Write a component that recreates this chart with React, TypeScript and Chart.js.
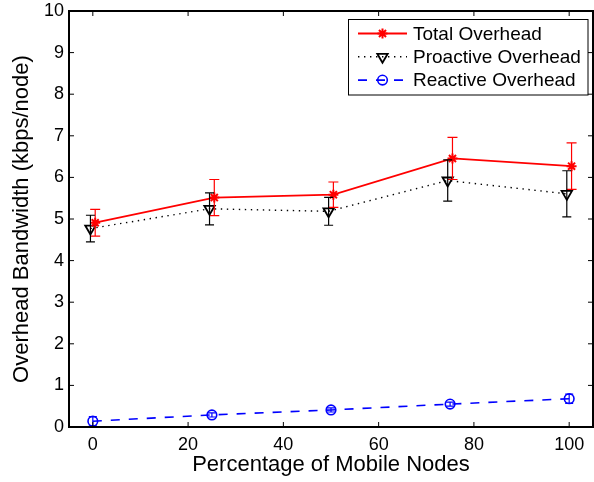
import { useEffect, useRef } from "react";
import { Chart, registerables } from "chart.js";
import { drawPoint } from "chart.js/helpers";

Chart.register(...registerables);

// Percentage of mobile nodes in the network
const mobilePct = [0, 25, 50, 75, 100];

// Mean overhead (kbps/node) and error half-widths for each series
const totalOverhead = [4.91, 5.515, 5.585, 6.455, 6.27];
const totalErr = [0.32, 0.435, 0.305, 0.505, 0.56];
const proactiveOverhead = [4.77, 5.245, 5.185, 5.925, 5.605];
const proactiveErr = [0.32, 0.385, 0.335, 0.495, 0.555];
const reactiveOverhead = [0.14, 0.29, 0.41, 0.55, 0.68];
const reactiveErr = [0.11, 0.05, 0.05, 0.05, 0.11];

const xTicks = [0, 20, 40, 60, 80, 100];
const yTicks = [0, 1, 2, 3, 4, 5, 6, 7, 8, 9, 10];

const seriesLabels = ["Total Overhead", "Proactive Overhead", "Reactive Overhead"];

// small horizontal dodge so overlapping error bars stay readable
const dodge = [0.5, -0.5, 0];

const FONT = "'Liberation Sans', Arial, Helvetica, sans-serif";

const toPoints = (ys: number[], dx: number) =>
  mobilePct.map((p, i) => ({ x: p + dx, y: ys[i] }));

const errorBarPlugin = {
  id: "errorBars",
  afterDatasetsDraw(chart: any) {
    const { ctx } = chart;
    const yScale = chart.scales.y;
    chart.data.datasets.forEach((ds: any, di: number) => {
      const meta = chart.getDatasetMeta(di);
      const errs: number[] = ds.errors || [];
      ctx.save();
      ctx.strokeStyle = ds.borderColor;
      ctx.lineWidth = 1.2;
      ctx.setLineDash([]);
      meta.data.forEach((pt: any, i: number) => {
        const v = ds.data[i].y;
        const e = errs[i] || 0;
        const yTop = yScale.getPixelForValue(v + e);
        const yBot = yScale.getPixelForValue(v - e);
        const cap = ds.capHalf || 4.5;
        ctx.beginPath();
        ctx.moveTo(pt.x, yTop);
        ctx.lineTo(pt.x, yBot);
        ctx.moveTo(pt.x - cap, yTop);
        ctx.lineTo(pt.x + cap, yTop);
        ctx.moveTo(pt.x - cap, yBot);
        ctx.lineTo(pt.x + cap, yBot);
        ctx.stroke();
      });
      ctx.restore();
    });
  },
};

const framePlugin = {
  id: "frame",
  afterDraw(chart: any) {
    const { ctx, chartArea: a } = chart;
    const xs = chart.scales.x;
    const ys = chart.scales.y;
    ctx.save();
    ctx.setLineDash([]);
    ctx.strokeStyle = "#000";
    // inward ticks on all four sides
    ctx.lineWidth = 1;
    const tl = 5;
    ctx.beginPath();
    xTicks.forEach((v) => {
      const px = xs.getPixelForValue(v);
      ctx.moveTo(px, a.bottom);
      ctx.lineTo(px, a.bottom - tl);
      ctx.moveTo(px, a.top);
      ctx.lineTo(px, a.top + tl);
    });
    yTicks.forEach((v) => {
      const py = ys.getPixelForValue(v);
      ctx.moveTo(a.left, py);
      ctx.lineTo(a.left + tl, py);
      ctx.moveTo(a.right, py);
      ctx.lineTo(a.right - tl, py);
    });
    ctx.stroke();
    // axes box
    ctx.lineWidth = 2;
    ctx.strokeRect(a.left, a.top, a.right - a.left, a.bottom - a.top);

    // legend
    const bx = 348.5, by = 19.5, bw = 239.5, bh = 75.5;
    ctx.fillStyle = "#fff";
    ctx.fillRect(bx, by, bw, bh);
    ctx.lineWidth = 1;
    ctx.strokeStyle = "#000";
    ctx.strokeRect(bx, by, bw, bh);
    ctx.font = `19px ${FONT}`;
    ctx.textBaseline = "middle";
    ctx.textAlign = "left";
    chart.data.datasets.forEach((ds: any, i: number) => {
      const ry = 33.5 + i * 23.3;
      ctx.save();
      ctx.strokeStyle = ds.borderColor;
      ctx.lineWidth = ds.borderWidth;
      ctx.setLineDash(ds.borderDash || []);
      ctx.beginPath();
      ctx.moveTo(358, ry);
      ctx.lineTo(407, ry);
      ctx.stroke();
      ctx.setLineDash([]);
      ctx.strokeStyle = ds.pointBorderColor;
      ctx.fillStyle = ds.pointBackgroundColor;
      ctx.lineWidth = ds.pointBorderWidth;
      drawPoint(
        ctx,
        {
          pointStyle: ds.pointStyle,
          radius: ds.pointRadius,
          rotation: ds.pointRotation || 0,
          borderWidth: ds.pointBorderWidth,
        },
        382.5,
        ry
      );
      ctx.restore();
      ctx.fillStyle = "#000";
      ctx.fillText(ds.label, 413, ry + 1);
    });
    ctx.restore();
  },
};

export default function App() {
  const canvasRef = useRef<HTMLCanvasElement | null>(null);

  useEffect(() => {
    const canvas = canvasRef.current;
    if (!canvas) return;
    const chart = new Chart(canvas, {
      type: "line",
      data: {
        datasets: [
          {
            label: seriesLabels[0],
            data: toPoints(totalOverhead, dodge[0]),
            errors: totalErr,
            capHalf: 5,
            borderColor: "#ff0000",
            borderWidth: 1.8,
            pointStyle: "star",
            pointRadius: 5,
            pointBorderColor: "#ff0000",
            pointBackgroundColor: "rgba(0,0,0,0)",
            pointBorderWidth: 2,
          },
          {
            label: seriesLabels[1],
            data: toPoints(proactiveOverhead, dodge[1]),
            errors: proactiveErr,
            capHalf: 4.5,
            borderColor: "#000000",
            borderWidth: 1.4,
            borderDash: [1.4, 4.6],
            pointStyle: "triangle",
            pointRotation: 180,
            pointRadius: 6,
            pointBorderColor: "#000000",
            pointBackgroundColor: "rgba(0,0,0,0)",
            pointBorderWidth: 1.8,
          },
          {
            label: seriesLabels[2],
            data: toPoints(reactiveOverhead, dodge[2]),
            errors: reactiveErr,
            capHalf: 4,
            borderColor: "#0000ff",
            borderWidth: 1.6,
            borderDash: [9, 9],
            pointStyle: "circle",
            pointRadius: 4.8,
            pointBorderColor: "#0000ff",
            pointBackgroundColor: "rgba(0,0,0,0)",
            pointBorderWidth: 1.6,
          },
        ] as any,
      },
      options: {
        animation: false,
        responsive: false,
        devicePixelRatio: 1,
        layout: { autoPadding: false, padding: { left: 0, top: 11, right: 1, bottom: 0 } },
        plugins: {
          legend: { display: false },
          tooltip: { enabled: false },
        },
        scales: {
          x: {
            type: "linear",
            min: -5,
            max: 105,
            grid: { display: false, drawTicks: false },
            border: { display: false },
            afterBuildTicks: (s: any) => {
              s.ticks = xTicks.map((v) => ({ value: v }));
            },
            afterFit: (s: any) => {
              s.height = 55;
              s.paddingLeft = 0;
              s.paddingRight = 0;
            },
            ticks: {
              padding: 7,
              color: "#000",
              font: { family: FONT, size: 18 },
              maxRotation: 0,
              callback: (v: any) => String(v),
            },
            title: {
              display: true,
              text: "Percentage of Mobile Nodes",
              color: "#000",
              font: { family: FONT, size: 22 },
              padding: { top: 0, bottom: 4 },
            },
          },
          y: {
            type: "linear",
            min: 0,
            max: 10,
            grid: { display: false, drawTicks: false },
            border: { display: false },
            afterBuildTicks: (s: any) => {
              s.ticks = yTicks.map((v) => ({ value: v }));
            },
            afterFit: (s: any) => {
              s.width = 69;
              s.paddingTop = 0;
              s.paddingBottom = 0;
            },
            ticks: {
              padding: 5,
              color: "#000",
              font: { family: FONT, size: 18 },
              callback: (v: any) => String(v),
            },
            title: {
              display: true,
              text: "Overhead Bandwidth (kbps/node)",
              color: "#000",
              font: { family: FONT, size: 22 },
              padding: { top: 9, bottom: 0 },
            },
          },
        },
      } as any,
      plugins: [errorBarPlugin, framePlugin],
    });
    return () => chart.destroy();
  }, []);

  return (
    <div style={{ position: "absolute", left: 0, top: 0, width: 594, height: 482, background: "#fff" }}>
      <canvas ref={canvasRef} width={594} height={482} />
    </div>
  );
}
